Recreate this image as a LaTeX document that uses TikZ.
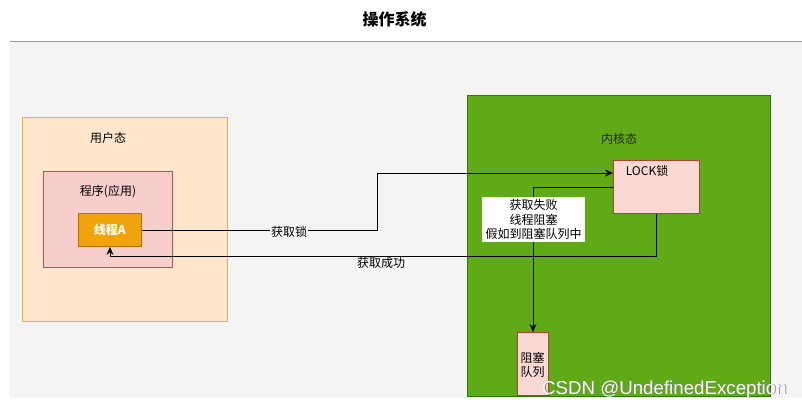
\documentclass[tikz,border=0pt]{standalone}
\usepackage{fontspec}
\setmainfont{Noto Sans CJK SC}
\newfontfamily\wmfont{Liberation Sans}
\usetikzlibrary{arrows.meta}
\definecolor{bggray}{HTML}{F4F4F4}
\definecolor{peach}{HTML}{FFE6CC}
\definecolor{peachline}{HTML}{D6B656}
\definecolor{pinkfill}{HTML}{F8CECC}
\definecolor{pinkline}{HTML}{B85450}
\definecolor{orangefill}{HTML}{F0A30A}
\definecolor{orangeline}{HTML}{BD7000}
\definecolor{greenfill}{HTML}{60A917}
\definecolor{greenline}{HTML}{2D7600}
\definecolor{lockfill}{HTML}{FAD9D5}
\definecolor{lockline}{HTML}{AE4132}
\begin{document}
\begin{tikzpicture}[x=1pt,y=-1pt,
  box/.style={draw, line width=0.9pt, anchor=north west, inner sep=0pt},
  lbl/.style={font=\fontsize{12}{14.5}\selectfont, inner sep=1pt},
  arr/.style={draw=black, line width=0.9pt, -{Stealth[length=8pt,width=7pt]}},
  ln/.style={draw=black, line width=0.9pt}
]
\useasboundingbox (0,0) rectangle (802,408);
\fill[white] (0,0) rectangle (802,408);
\fill[bggray] (10,42) rectangle (802,398);
\draw[gray!80, line width=1.3pt] (10,41.5) -- (802,41.5);
\node[font=\fontsize{16}{18}\selectfont\bfseries] (title) at (394.5,19.5) {操作系统};

% user space
\node[box, fill=peach, draw=peachline, minimum width=205pt, minimum height=204pt] (user) at (22,117) {};
\node[lbl] (userlbl) at (108,138) {用户态};
\node[box, fill=pinkfill, draw=pinkline, minimum width=129pt, minimum height=96pt] (prog) at (43,171) {};
\node[lbl] (proglbl) at (108,192) {程序(应用)};
\node[box, fill=orangefill, draw=orangeline, minimum width=63pt, minimum height=33pt] (thr) at (78,213) {};
\node[lbl, text=white, font=\fontsize{12}{14}\selectfont\bfseries] (thrlbl) at (thr.center) {线程A};

% kernel space
\node[box, fill=greenfill, draw=greenline, minimum width=303pt, minimum height=301pt] (kern) at (467,95) {};
\node[lbl, text=black!85] (kernlbl) at (619,139) {内核态};
\node[box, fill=lockfill, draw=lockline, minimum width=86pt, minimum height=53pt] (lock) at (613,160) {};
\node[lbl] (locklbl) at (647,171) {LOCK锁};
\node[box, fill=lockfill, draw=lockline, minimum width=31pt, minimum height=63pt] (queue) at (517,332) {};
\node[lbl, align=center] (queuelbl) at (532.5,365) {阻塞\\队列};

% connectors
\coordinate (c1) at (377,173);
\draw[arr] (thr.east) -| (c1) -- (c1 -| lock.west);
\node[lbl, fill=bggray] (getlock) at (289,232) {获取锁};

\draw[arr] (lock.south) -- ++(0,43) -| (thr.south);
\node[lbl] (getok) at (381,263) {获取成功};

\draw[arr] (lock.west) -| (queue.north);
\node[lbl, fill=white, align=center, minimum width=103pt, minimum height=45pt, inner sep=0pt] (fail) at (533.5,219.5) {获取失败\\线程阻塞\\假如到阻塞队列中};

% watermark
\node[font=\wmfont\fontsize{18.7}{20}\selectfont, text=black!50, inner sep=0pt, anchor=base west] (wm2) at (542.8,394.6) {CSDN @UndefinedException};
\node[font=\wmfont\fontsize{18.7}{20}\selectfont, text=white!95!gray, inner sep=0pt, anchor=base west] (wm) at (542,394) {CSDN @UndefinedException};
\end{tikzpicture}
\end{document}
